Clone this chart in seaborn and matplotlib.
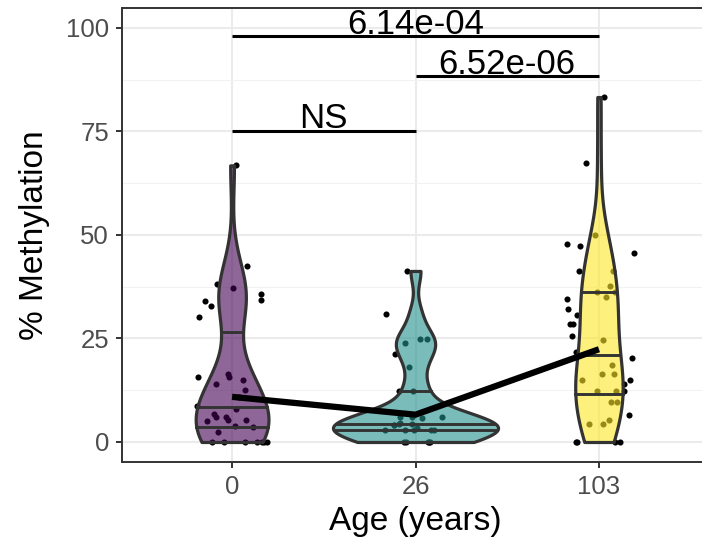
import numpy as np
import pandas as pd
import matplotlib
matplotlib.use("Agg")
import matplotlib.pyplot as plt
import seaborn as sns

# ---------------- data ----------------
age_labels = ["0", "26", "103"]
meth_0 = [66.8, 42.5, 38.2, 37.1, 35.7, 34.4, 34.0, 32.9, 30.1, 16.4, 15.6, 15.6,
          15.0, 14.0, 12.6, 10.8, 8.7, 8.0, 6.8, 6.0, 6.0, 5.2, 5.2, 5.1, 3.9, 3.6,
          2.4, 0, 0, 0, 0, 0, 0, 0]
meth_26 = [41.3, 30.8, 24.8, 24.8, 23.9, 21.2, 18.2, 12.3, 12.3, 6.1, 6.0, 6.0,
           5.7, 4.5, 4.4, 4.3, 4.1, 4.0, 3.3, 3.0, 3.0, 2.9, 2.9, 2.9, 0, 0, 0, 0, 0]
meth_103 = [83.3, 67.3, 49.9, 47.8, 47.3, 45.7, 41.3, 41.3, 37.7, 36.2, 36.2, 35.1,
            34.6, 32.0, 30.7, 28.4, 28.4, 25.7, 24.6, 21.8, 20.2, 18.6, 16.4, 16.4,
            15.0, 15.0, 14.0, 12.3, 12.3, 12.3, 9.7, 9.7, 6.5, 5.3, 4.3, 4.3, 0, 0, 0, 0]
line_values = [10.9, 6.6, 22.4]
bracket_pairs = [("0", "103"), ("26", "103"), ("0", "26")]
bracket_heights = [98.0, 88.3, 75.2]
bracket_labels = ["6.14e-04", "6.52e-06", "NS"]
colors = ["#440154", "#21908C", "#FDE725"]

df = pd.DataFrame({
    "age": ["0"] * len(meth_0) + ["26"] * len(meth_26) + ["103"] * len(meth_103),
    "meth": meth_0 + meth_26 + meth_103,
})


def nrd0_factor(kde):
    # R's bw.nrd0 expressed as a scipy covariance factor
    d = np.asarray(kde.dataset).ravel()
    n = d.size
    sd = np.std(d, ddof=1)
    q75, q25 = np.percentile(d, [75, 25])
    lo = min(sd, (q75 - q25) / 1.34)
    if lo <= 0:
        lo = sd
    bw = 0.9 * lo * n ** (-0.2)
    return bw / sd


FONT = ["Liberation Sans", "DejaVu Sans"]
plt.rcParams["font.family"] = FONT

fig = plt.figure(figsize=(7.02, 5.49), dpi=100)
ax = fig.add_axes([122 / 702, 1 - 462 / 549, (709 - 122) / 702, (462 - 8) / 549])
ax.set_axisbelow(True)

# violins
sns.violinplot(data=df, x="age", y="meth", order=age_labels, hue="age",
               hue_order=age_labels, palette=colors, legend=False, cut=0,
               density_norm="area", common_norm=True, width=0.9, inner="quart",
               linewidth=2.2, linecolor="#333333", saturation=1,
               bw_method=nrd0_factor, gridsize=512, ax=ax)
for coll in ax.collections:
    fc = coll.get_facecolor()
    if len(fc):
        rgb = fc[0][:3]
        coll.set_facecolor((*rgb, 0.6))
        coll.set_edgecolor("#333333")
        coll.set_linewidth(2.3)
        coll.set_zorder(2)
for ln in ax.lines:
    ln.set_linestyle("-")
    ln.set_color("#333333")
    ln.set_linewidth(2.1)
    ln.set_zorder(2.1)

# jittered points (behind violins)
np.random.seed(3)
sns.stripplot(data=df, x="age", y="meth", order=age_labels, color="black",
              jitter=0.2, size=4.4, linewidth=0, zorder=1.5, ax=ax)

# line connecting group summaries
n_before = len(ax.lines)
sns.pointplot(x=age_labels, y=line_values, order=age_labels, color="black",
              errorbar=None, ax=ax)
for ln in ax.lines[n_before:]:
    ln.set_marker("None")
    ln.set_linewidth(4.5)
    ln.set_solid_capstyle("butt")
    ln.set_zorder(4)
for coll in ax.collections[:]:
    if coll.get_zorder() not in (2, 1.5):
        coll.remove()

# significance brackets
for (a, b), h, lab in zip(bracket_pairs, bracket_heights, bracket_labels):
    xa, xb = age_labels.index(a), age_labels.index(b)
    ax.plot([xa, xb], [h, h], color="black", lw=2.2, zorder=5,
            solid_capstyle="butt")
    ax.text((xa + xb) / 2, h + 0.6, lab, ha="center", va="baseline",
            fontsize=25, color="black", family=FONT, zorder=5)

# axes styling (theme_bw-like)
ax.set_xlim(-0.6, 2.6)
ax.set_ylim(-4.83, 104.8)
ax.set_yticks([0, 25, 50, 75, 100])
ax.set_yticks([12.5, 37.5, 62.5, 87.5], minor=True)
ax.set_xticks(range(len(age_labels)))
ax.set_xticklabels(age_labels)
ax.grid(which="major", color="#EBEBEB", lw=1.5)
ax.grid(which="minor", axis="y", color="#F2F2F2", lw=0.8)
ax.tick_params(which="major", length=4.3, width=1.4, color="#333333",
               labelsize=18.5, labelcolor="#4D4D4D", pad=5)
ax.tick_params(which="minor", length=0)
for side in ["left", "bottom", "top", "right"]:
    ax.spines[side].set_color("#333333")
    ax.spines[side].set_linewidth(1.4)

ax.set_xlabel("Age (years)", fontsize=24, color="black")
ax.set_ylabel("% Methylation", fontsize=24, color="black")
ax.xaxis.set_label_coords(0.5, -0.097)
ax.yaxis.set_label_coords(-0.122, 0.5)

fig.savefig("out.png", dpi=100)
